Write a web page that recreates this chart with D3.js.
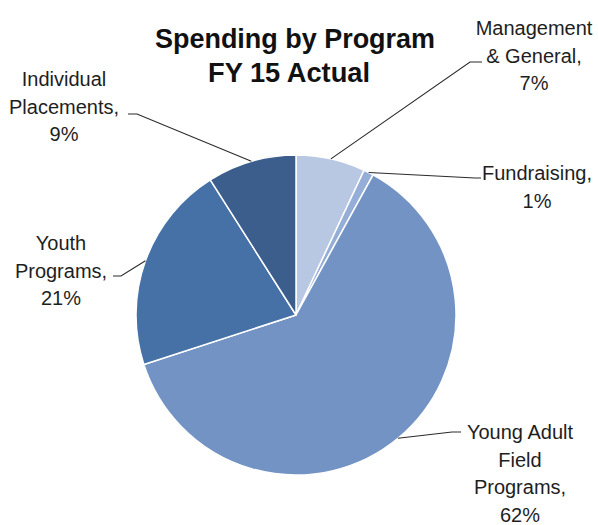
<!DOCTYPE html>
<html><head><meta charset="utf-8">
<script src="https://cdn.jsdelivr.net/npm/d3@7"></script>
<style>html,body{margin:0;padding:0;background:#fff;}svg{display:block;}</style>
</head><body>
<svg id="chart" width="598" height="525"></svg>
<script>
// ---- data ----
const categories = ["Management & General", "Fundraising", "Young Adult Field Programs", "Youth Programs", "Individual Placements"];
const values = [7, 1, 62, 21, 9];
const labelLines = [
  ["Management", "& General,", "7%"],
  ["Fundraising,", "1%"],
  ["Young Adult", "Field", "Programs,", "62%"],
  ["Youth", "Programs,", "21%"],
  ["Individual", "Placements,", "9%"]
];
const titleLines = ["Spending by Program", "FY 15 Actual"];

// ---- layout / style ----
const colors = ["#B9C8E2", "#95AED7", "#7293C4", "#4571A6", "#3B5E8D"];
const cx = 296, cy = 315, R = 160;
// label layout: text anchor center x, first baseline y, elbow point, line end
const labelLayout = [
  {tx: 534, ty: 35,  elbow: [470, 62],  end: [482, 62]},
  {tx: 537, ty: 180, elbow: [475, 178], end: [481, 178]},
  {tx: 520, ty: 439, elbow: [452, 432], end: [461, 432]},
  {tx: 61,  ty: 250, elbow: [121, 276], end: [113, 276]},
  {tx: 64,  ty: 86,  elbow: [137, 114], end: [128, 114]}
];
const lineH = 27.5;

const svg = d3.select("#chart");
const g = svg.append("g").attr("transform", `translate(${cx},${cy})`);

const pie = d3.pie().sort(null).value(d => d)(values);
const arc = d3.arc().innerRadius(0).outerRadius(R);
const edge = d3.arc().innerRadius(R).outerRadius(R);

g.selectAll("path.slice").data(pie).join("path")
  .attr("class", "slice")
  .attr("d", arc)
  .attr("fill", (d, i) => colors[i])
  .attr("stroke", "#fff")
  .attr("stroke-width", 1.5)
  .attr("stroke-linejoin", "round");

// leader lines
pie.forEach((d, i) => {
  const p = edge.centroid(d);
  const L = labelLayout[i];
  const pts = [[cx + p[0], cy + p[1]], L.elbow, L.end];
  svg.append("path")
    .attr("d", d3.line()(pts))
    .attr("fill", "none")
    .attr("stroke", "#2a2a2a")
    .attr("stroke-width", 1.1);
});

// labels
labelLines.forEach((lines, i) => {
  const L = labelLayout[i];
  const t = svg.append("text")
    .attr("text-anchor", "middle")
    .attr("font-family", "'Liberation Sans', Arial, sans-serif")
    .attr("font-size", 20)
    .attr("fill", "#1e1e1e");
  lines.forEach((s, j) => {
    t.append("tspan").attr("x", L.tx).attr("y", L.ty + j * lineH).text(s);
  });
});

// title
const titleLayout = [{x: 295, y: 48, w: 280}, {x: 289, y: 82, w: 162}];
titleLines.forEach((s, j) => {
  svg.append("text")
    .attr("x", titleLayout[j].x)
    .attr("y", titleLayout[j].y)
    .attr("text-anchor", "middle")
    .attr("font-family", "'Liberation Sans', Arial, sans-serif")
    .attr("font-weight", "bold")
    .attr("font-size", 28)
    .attr("textLength", titleLayout[j].w)
    .attr("lengthAdjust", "spacingAndGlyphs")
    .attr("fill", "#111")
    .text(s);
});
</script>
</body></html>
